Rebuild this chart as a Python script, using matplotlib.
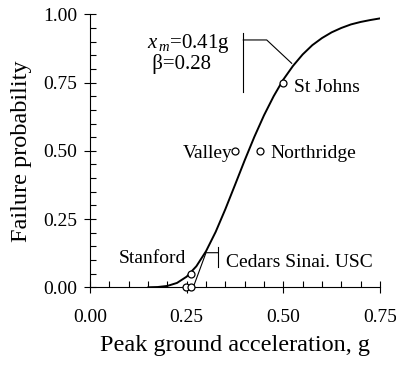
import matplotlib
matplotlib.use("Agg")
import matplotlib.pyplot as plt
from matplotlib.ticker import MultipleLocator

# ---- data ----
curve_x = [0.150, 0.175, 0.200, 0.225, 0.250, 0.275, 0.300, 0.325, 0.350, 0.375,
           0.400, 0.425, 0.450, 0.475, 0.500, 0.525, 0.550, 0.575, 0.600, 0.625,
           0.650, 0.675, 0.700, 0.725, 0.750]
curve_y = [0.000, 0.001, 0.005, 0.016, 0.039, 0.077, 0.132, 0.203, 0.286, 0.375,
           0.465, 0.551, 0.630, 0.700, 0.761, 0.811, 0.853, 0.887, 0.913, 0.934,
           0.950, 0.963, 0.972, 0.979, 0.985]

site_names = ["St Johns", "Valley", "Northridge", "Stanford", "Cedars Sinai", "USC"]
site_pga = [0.50, 0.375, 0.44, 0.262, 0.249, 0.260]
site_pf = [0.75, 0.50, 0.50, 0.05, 0.00, 0.00]

x_ticks = [0.00, 0.25, 0.50, 0.75]
y_ticks = [0.00, 0.25, 0.50, 0.75, 1.00]

plt.rcParams['font.family'] = ['Liberation Serif', 'DejaVu Serif']
plt.rcParams['mathtext.fontset'] = 'custom'
plt.rcParams['mathtext.rm'] = 'Liberation Serif'
plt.rcParams['mathtext.it'] = 'Liberation Serif:italic'

fig = plt.figure(figsize=(3.96, 3.70), dpi=100)
ax = fig.add_axes([90/396, 1-287.3/370, 290/396, 273/370])

ax.plot(curve_x, curve_y, color='black', lw=1.4, solid_capstyle='round', zorder=3)
ax.plot(site_pga, site_pf, linestyle='none', marker='o', ms=5, mfc='white',
        mec='black', mew=0.9, clip_on=False, zorder=4)

ax.set_xlim(0, 0.75)
ax.set_ylim(0, 1.0)
ax.set_xticks(x_ticks)
ax.set_yticks(y_ticks)
ax.set_xticklabels([f"{v:.2f}" for v in x_ticks])
ax.set_yticklabels([f"{v:.2f}" for v in y_ticks])
ax.xaxis.set_minor_locator(MultipleLocator(0.05))
ax.yaxis.set_minor_locator(MultipleLocator(0.05))
for s in ['top', 'right']:
    ax.spines[s].set_visible(False)
for s in ['left', 'bottom']:
    ax.spines[s].set_linewidth(0.8)
ax.tick_params(which='major', direction='inout', length=8.6, width=0.8, labelsize=14)
ax.tick_params(axis='x', which='major', pad=11)
ax.tick_params(axis='y', which='major', pad=5)
ax.tick_params(which='minor', direction='in', length=4, width=0.8)

ax.set_xlabel("Peak ground acceleration, g", fontsize=17.5)
ax.set_ylabel("Failure probability", fontsize=17.5)
ax.xaxis.set_label_coords(0.5, -0.173)
ax.yaxis.set_label_coords(-0.2, 0.5)

fs = 14
ax.text(0.5275, 0.7165, site_names[0], fontsize=fs, va='baseline', ha='left')
ax.text(0.369, 0.4725, site_names[1], fontsize=fs, va='baseline', ha='right')
ax.text(0.4655, 0.4725, site_names[2], fontsize=fs, va='baseline', ha='left')
ax.text(0.075, 0.090, site_names[3], fontsize=fs, va='baseline', ha='left')
ax.text(0.352, 0.073, site_names[4] + ". " + site_names[5], fontsize=fs, va='baseline', ha='left')

# parameter box (one text block)
ax.text(0.1466, 0.935, r"$x_{\,m}$=0.41g" + "\n" + " β=0.28", fontsize=15,
        va='top', ha='left', multialignment='left', linespacing=0.95)

lk = dict(color='black', lw=0.8, clip_on=False)
ax.plot([0.3964, 0.3964], [0.931, 0.715], **lk)
ax.plot([0.3964, 0.457, 0.5216], [0.906, 0.906, 0.8205], **lk)
ax.plot([0.331, 0.331], [0.1487, 0.0755], **lk)
ax.plot([0.267, 0.300, 0.331], [0.0, 0.1267, 0.1267], **lk)

fig.savefig("out.png", dpi=100)
